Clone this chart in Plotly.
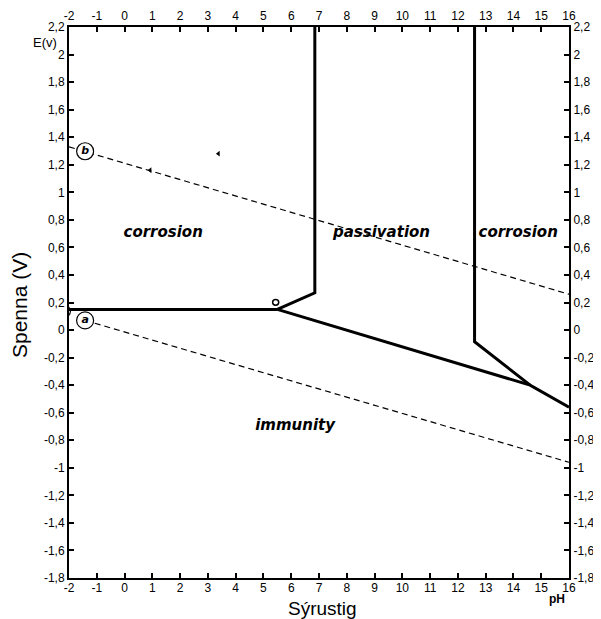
import plotly.graph_objects as go

# --- data ---
ph_ticks = list(range(-2, 17))
e_ticks = [round(-1.8 + 0.2 * i, 1) for i in range(21)]

def fmt(v):
    s = ("%g" % v).replace(".", ",")
    return s

e_ticktext = [fmt(v) for v in e_ticks]
ph_ticktext = [str(v) for v in ph_ticks]

# boundary lines
h_ph = [-2, 5.5]
h_e = [0.15, 0.15]
pass_left_ph = [5.5, 6.85, 6.85]
pass_left_e = [0.15, 0.27, 2.2]
lower_ph = [5.5, 14.6, 16]
lower_e = [0.15, -0.40, -0.56]
right_ph = [12.6, 12.6, 14.6]
right_e = [2.2, -0.085, -0.40]

# water lines (dashed)
b_ph = [-2, 16]
b_e = [1.33, 0.26]
a_ph = [-1.42, 16]
a_e = [0.07, -0.96]

circle_ph = [-1.42, -1.42]
circle_e = [1.298, 0.07]
circle_txt = ["b", "a"]

mark_ph = [3.38, 0.92]
mark_e = [1.28, 1.16]

region_txt = ["corrosion", "passivation", "corrosion", "immunity"]
region_ph = [1.39, 9.25, 14.17, 6.14]
region_e = [0.70, 0.70, 0.70, -0.70]

fig = go.Figure()
solid = dict(color="black", width=3)
dash = dict(color="black", width=1.2, dash="6px,4px")

for xs, ys in [(h_ph, h_e), (pass_left_ph, pass_left_e), (lower_ph, lower_e), (right_ph, right_e)]:
    fig.add_trace(go.Scatter(x=xs, y=ys, mode="lines", line=solid, showlegend=False, hoverinfo="skip"))
for xs, ys in [(b_ph, b_e), (a_ph, a_e)]:
    fig.add_trace(go.Scatter(x=xs, y=ys, mode="lines", line=dash, showlegend=False, hoverinfo="skip"))

fig.add_trace(go.Scatter(x=mark_ph, y=mark_e, mode="markers",
                         marker=dict(symbol="triangle-left", size=5, color="black"),
                         showlegend=False, hoverinfo="skip"))

fig.add_trace(go.Scatter(x=circle_ph, y=circle_e, mode="markers+text", text=circle_txt,
                         textposition="middle center",
                         textfont=dict(family="DejaVu Sans", size=11, color="black", style="italic", weight="bold"),
                         marker=dict(size=17, color="white", line=dict(color="black", width=1.2)),
                         showlegend=False, hoverinfo="skip", cliponaxis=False))

fig.add_trace(go.Scatter(x=region_ph, y=region_e, mode="text", text=region_txt,
                         textposition="middle center",
                         textfont=dict(family="DejaVu Sans", size=15, color="black", style="italic", weight="bold"),
                         showlegend=False, hoverinfo="skip"))

# invisible trace for secondary axes
fig.add_trace(go.Scatter(x=[-2, 16], y=[-1.8, 2.2], xaxis="x2", yaxis="y2", mode="markers",
                         marker=dict(opacity=0), showlegend=False, hoverinfo="skip"))

# small ellipse at left and junction circle
fig.add_shape(type="circle", xref="x", yref="y", x0=-2.49, x1=-1.95, y0=0.088, y1=0.185,
              line=dict(color="black", width=1.2))
fig.add_shape(type="circle", xref="x", yref="y", x0=5.33, x1=5.55, y0=0.18, y1=0.222,
              line=dict(color="black", width=1.5), fillcolor="white")

tickfont = dict(family="Liberation Sans", size=12, color="black")
axcommon = dict(showgrid=False, zeroline=False, showline=True, linecolor="black", linewidth=2,
                ticks="inside", ticklen=5, tickwidth=1.5, tickcolor="black", tickfont=tickfont,
                automargin=False)

# page body has an 8px margin; figure is sized to fit the window
OFF = 8
W, H = 601 - OFF, 619 - OFF
l, r, t, b = 69 - OFF, 32, 27 - OFF, 41

fig.update_layout(
    width=W, height=H,
    margin=dict(l=l, r=r, t=t, b=b, autoexpand=False),
    plot_bgcolor="white", paper_bgcolor="white",
    xaxis=dict(range=[-2, 16], tickvals=ph_ticks, ticktext=ph_ticktext, ticklabelstandoff=-2, **axcommon),
    xaxis2=dict(range=[-2, 16], tickvals=ph_ticks, ticktext=ph_ticktext, overlaying="x", side="top",
                anchor="y", **axcommon),
    yaxis=dict(range=[-1.8, 2.2], tickvals=e_ticks, ticktext=e_ticktext, **axcommon),
    yaxis2=dict(range=[-1.8, 2.2], tickvals=e_ticks, ticktext=e_ticktext, overlaying="y", side="right",
                anchor="x", **axcommon),
    annotations=[
        dict(text="Spenna (V)", x=19, y=305, showarrow=False,
             textangle=-90, font=dict(family="Liberation Sans", size=21, color="black")),
        dict(text="Sýrustig", x=322, y=608, showarrow=False,
             font=dict(family="Liberation Sans", size=19, color="black")),
        dict(text="E(v)", x=45, y=42, showarrow=False,
             font=dict(family="Liberation Sans", size=13, color="black")),
        dict(text="pH", x=557, y=599, showarrow=False,
             font=dict(family="Liberation Sans", size=12, color="black", weight="bold")),
    ],
)
# convert window-pixel-positioned annotations to paper coords
pw, ph_ = W - l - r, H - t - b
new_ann = []
for a in fig.layout.annotations:
    a = a.to_plotly_json()
    px, py = a["x"] - OFF, a["y"] - OFF
    a["xref"] = "paper"; a["yref"] = "paper"
    a["x"] = (px - l) / pw
    a["y"] = 1 - (py - t) / ph_
    a["xanchor"] = "center"; a["yanchor"] = "middle"
    new_ann.append(a)
fig.layout.annotations = new_ann

fig.write_html("out.html")
